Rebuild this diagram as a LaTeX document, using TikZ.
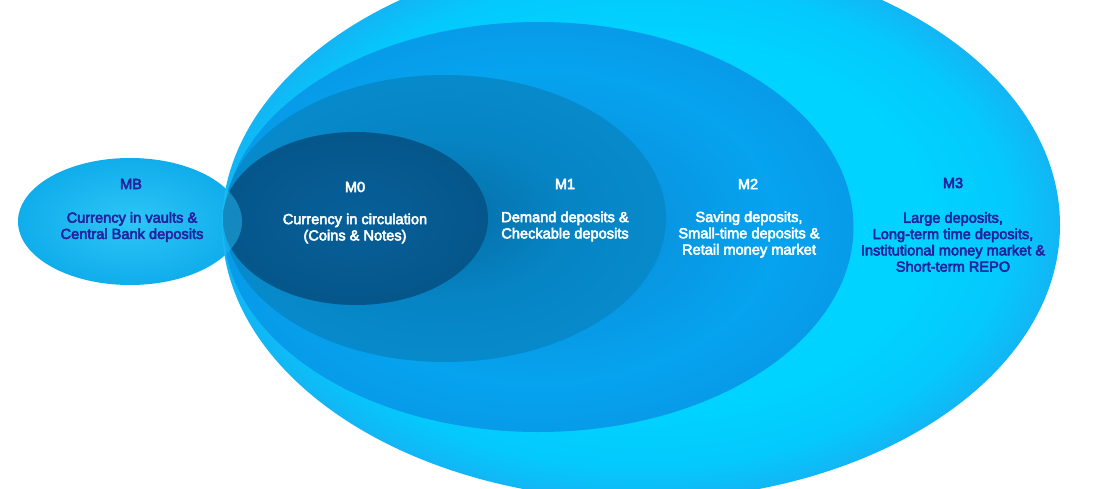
\documentclass[tikz,border=0pt]{standalone}
\usepackage{fontspec}
\setmainfont{Liberation Sans}[UprightFeatures={FakeBold=3.5}]
\usetikzlibrary{shapes.geometric}
\definecolor{navy}{HTML}{22229E}
\definecolor{mbin}{HTML}{2EC6F6}
\definecolor{mbout}{HTML}{10ADEC}
\definecolor{mbmid}{HTML}{22BCF2}
\definecolor{mthreein}{HTML}{00D3FF}
\definecolor{mthreemid}{HTML}{04C9FC}
\definecolor{mthreeout}{HTML}{12B6F4}
\definecolor{mtwoa}{HTML}{0896E2}
\definecolor{mtwob}{HTML}{06A3EF}
\definecolor{mtwoc}{HTML}{079BE9}
\definecolor{monea}{HTML}{0676B2}
\definecolor{moneb}{HTML}{0684C4}
\definecolor{monec}{HTML}{078ACB}
\definecolor{mzeroin}{HTML}{07609A}
\definecolor{mzeroout}{HTML}{05568A}
\pgfdeclareradialshading{shMB}{\pgfpoint{0bp}{0bp}}{color(0bp)=(mbin); color(25bp)=(mbout); color(50bp)=(mbout)}
\pgfdeclareradialshading{shMthree}{\pgfpoint{0bp}{0bp}}{color(0bp)=(mthreein); color(17bp)=(mthreein); color(22bp)=(mthreemid); color(25bp)=(mthreeout); color(50bp)=(mthreeout)}
\pgfdeclareradialshading{shMtwo}{\pgfpoint{0bp}{0bp}}{color(0bp)=(mtwoa); color(10bp)=(mtwoa); color(19bp)=(mtwob); color(25bp)=(mtwoc); color(50bp)=(mtwoc)}
\pgfdeclareradialshading{shMone}{\pgfpoint{0bp}{0bp}}{color(0bp)=(monea); color(5bp)=(monea); color(14bp)=(moneb); color(25bp)=(monec); color(50bp)=(monec)}
\pgfdeclareradialshading{shMzero}{\pgfpoint{0bp}{0bp}}{color(0bp)=(mzeroin); color(25bp)=(mzeroout); color(50bp)=(mzeroout)}
\begin{document}
\begin{tikzpicture}[x=1pt,y=-1pt,
  blob/.style={ellipse, inner sep=0pt, outer sep=0pt, draw=none},
  lab/.style={font=\fontsize{14.6}{16.3}\selectfont, align=center, inner sep=0pt},
  darktext/.style={lab, text=navy},
  lighttext/.style={lab, text=white}]
\useasboundingbox (0,0) rectangle (1100,488);
\fill[white] (0,0) rectangle (1100,488);
% ellipses
\node[blob, shade, shading=shMB, minimum width=224pt, minimum height=127pt] (mb) at (130,221.5) {};
\node[blob, shade, shading=shMthree, minimum width=838pt, minimum height=550pt] (m3) at (641,225) {};
\node[blob, shade, shading=shMtwo, minimum width=630pt, minimum height=410pt] (m2) at (538.5,227) {};
\node[blob, shade, shading=shMone, minimum width=442pt, minimum height=287pt] (m1) at (445,218.5) {};
\node[blob, shade, shading=shMzero, minimum width=265pt, minimum height=173pt] (m0) at (355.5,218.5) {};
% MB overlapping the nested ellipses
\begin{scope}
  \clip (m3.center) ellipse [x radius=419pt, y radius=275pt];
  \fill[mbmid, fill opacity=0.5] (mb.center) ellipse [x radius=112pt, y radius=63.5pt];
\end{scope}
% texts
\node[darktext] (mbt) at (131,184) {MB};
\node[darktext] (mbb) at (132,227) {Currency in vaults \&\\Central Bank deposits};
\node[lighttext] (m0t) at (355,187) {M0};
\node[lighttext] (m0b) at (355,228.5) {Currency in circulation\\(Coins \& Notes)};
\node[lighttext] (m1t) at (565,184) {M1};
\node[lighttext] (m1b) at (565,226.5) {Demand deposits \&\\Checkable deposits};
\node[lighttext] (m2t) at (748,184) {M2};
\node[lighttext] (m2b) at (749,234.5) {Saving deposits,\\Small-time deposits \&\\Retail money market};
\node[darktext] (m3t) at (953,183) {M3};
\node[darktext] (m3b) at (953,242) {Large deposits,\\Long-term time deposits,\\Institutional money market \&\\Short-term REPO};
\end{tikzpicture}
\end{document}
